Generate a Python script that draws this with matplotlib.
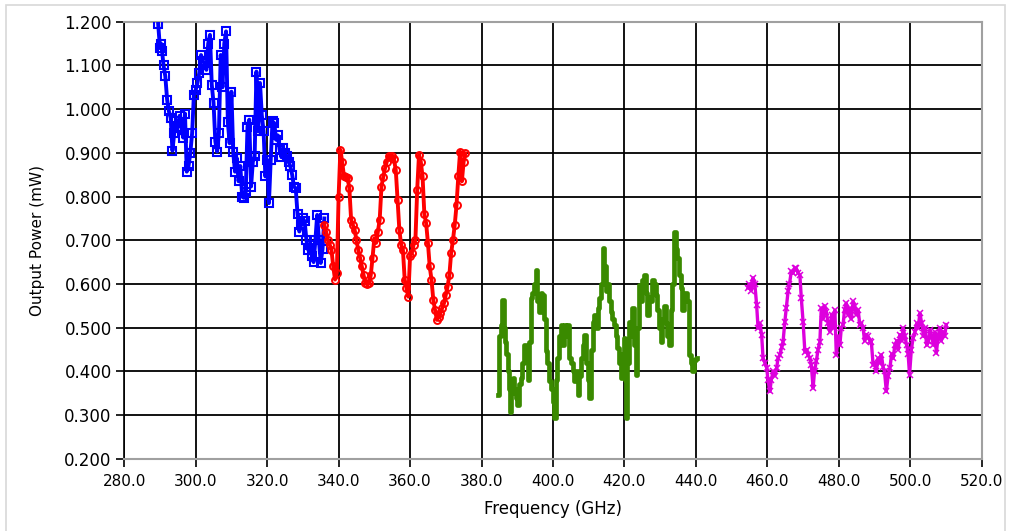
import matplotlib
matplotlib.use("Agg")
import matplotlib.pyplot as plt
from matplotlib.patches import Rectangle

# band 1 (blue, squares)
blue_f = [289.5, 290.0, 290.3, 290.6, 291.0, 291.5, 292.0, 292.5, 293.0, 293.5,
          294.0, 294.5, 295.0, 295.5, 296.0, 296.5, 297.0, 297.5, 298.0, 298.5,
          299.0, 299.5, 300.0, 300.5, 301.0, 301.5, 302.0, 302.5, 303.0, 303.5,
          304.0, 304.5, 305.0, 305.5, 306.0, 306.5, 307.0, 307.5, 308.0, 308.5,
          309.0, 309.5, 310.0, 310.5, 311.0, 311.5, 312.0, 312.5, 313.0, 313.5,
          314.0, 314.5, 315.0, 315.5, 316.0, 316.5, 317.0, 317.5, 318.0, 318.5,
          319.0, 319.5, 320.0, 320.5, 321.0, 321.5, 322.0, 322.5, 323.0, 323.5,
          324.0, 324.5, 325.0, 325.5, 326.0, 326.5, 327.0, 327.5, 328.0, 328.5,
          329.0, 329.5, 330.0, 330.5, 331.0, 331.5, 332.0, 332.5, 333.0, 333.5,
          334.0, 334.5, 335.0, 335.5, 336.0]
blue_p = [1.195, 1.140, 1.150, 1.132, 1.100, 1.075, 1.022, 0.995, 0.980, 0.905,
          0.946, 0.972, 0.960, 0.985, 0.957, 0.935, 0.990, 0.857, 0.870, 0.900,
          0.945, 1.033, 1.044, 1.060, 1.083, 1.124, 1.110, 1.105, 1.090, 1.150,
          1.170, 1.056, 1.014, 0.926, 0.903, 0.945, 1.124, 1.050, 1.150, 1.178,
          0.970, 0.922, 1.040, 0.903, 0.857, 0.888, 0.835, 0.870, 0.800, 0.797,
          0.810, 0.960, 0.976, 0.823, 0.880, 0.892, 1.086, 0.949, 1.060, 0.987,
          0.950, 0.846, 0.884, 0.785, 0.884, 0.972, 0.968, 0.930, 0.940, 0.907,
          0.890, 0.911, 0.900, 0.892, 0.880, 0.869, 0.850, 0.823, 0.819, 0.760,
          0.720, 0.735, 0.750, 0.743, 0.700, 0.678, 0.690, 0.663, 0.650, 0.700,
          0.758, 0.700, 0.648, 0.680, 0.750]

# band 2 (red, circles)
red_f = [336.0, 336.5, 337.0, 337.5, 338.0, 338.5, 339.0, 339.5, 340.0, 340.5,
         341.0, 341.5, 342.0, 342.5, 343.0, 343.5, 344.0, 344.5, 345.0, 345.5,
         346.0, 346.5, 347.0, 347.5, 348.0, 348.5, 349.0, 349.5, 350.0, 350.5,
         351.0, 351.5, 352.0, 352.5, 353.0, 353.5, 354.0, 354.5, 355.0, 355.5,
         356.0, 356.5, 357.0, 357.5, 358.0, 358.5, 359.0, 359.5, 360.0, 360.5,
         361.0, 361.5, 362.0, 362.5, 363.0, 363.5, 364.0, 364.5, 365.0, 365.5,
         366.0, 366.5, 367.0, 367.5, 368.0, 368.5, 369.0, 369.5, 370.0, 370.5,
         371.0, 371.5, 372.0, 372.5, 373.0, 373.5, 374.0, 374.5, 375.0, 375.5]
red_p = [0.735, 0.720, 0.700, 0.690, 0.678, 0.640, 0.610, 0.625, 0.800, 0.907,
         0.880, 0.846, 0.845, 0.842, 0.820, 0.747, 0.735, 0.724, 0.700, 0.678,
         0.660, 0.640, 0.620, 0.602, 0.600, 0.602, 0.620, 0.660, 0.705, 0.694,
         0.720, 0.747, 0.823, 0.845, 0.865, 0.880, 0.892, 0.890, 0.892, 0.885,
         0.861, 0.793, 0.724, 0.690, 0.678, 0.610, 0.590, 0.571, 0.663, 0.671,
         0.690, 0.701, 0.816, 0.896, 0.880, 0.846, 0.760, 0.739, 0.694, 0.640,
         0.610, 0.564, 0.540, 0.518, 0.525, 0.533, 0.545, 0.556, 0.575, 0.594,
         0.620, 0.671, 0.700, 0.735, 0.780, 0.846, 0.903, 0.835, 0.880, 0.899]

# band 3 (green, line only)
green_f = [384.7, 385.3, 385.6, 386.1, 386.4, 386.6, 387.1, 387.5, 387.8, 388.0,
           388.5, 388.9, 389.3, 389.8, 390.3, 390.7, 391.2, 391.7, 392.2, 392.7,
           393.2, 393.6, 394.0, 394.5, 394.9, 395.4, 395.9, 396.3, 396.8, 397.2,
           397.7, 398.2, 398.7, 399.2, 399.7, 400.1, 400.6, 401.0, 401.5, 402.0,
           402.4, 402.9, 403.4, 403.8, 404.3, 404.8, 405.3, 405.7, 406.2, 406.7,
           407.1, 407.6, 408.1, 408.6, 409.0, 409.5, 410.0, 410.4, 410.9, 411.3,
           411.8, 412.3, 412.8, 413.2, 413.7, 414.1, 414.6, 415.0, 415.5, 416.0,
           416.4, 416.9, 417.3, 417.8, 418.3, 418.7, 419.2, 419.7, 420.1, 420.4,
           420.6, 421.0, 421.5, 422.0, 422.4, 422.9, 423.4, 423.8, 424.3, 424.8,
           425.2, 425.7, 426.2, 426.6, 427.1, 427.6, 428.0, 428.5, 428.9, 429.4,
           429.9, 430.4, 430.8, 431.3, 431.8, 432.2, 432.7, 433.2, 433.6, 434.1,
           434.6, 435.0, 435.5, 436.0, 436.5, 437.0, 437.4, 437.9, 438.3, 438.8,
           439.2, 439.7, 440.2]
green_p = [0.346, 0.480, 0.507, 0.564, 0.500, 0.468, 0.440, 0.400, 0.360, 0.308,
           0.350, 0.385, 0.360, 0.340, 0.324, 0.370, 0.385, 0.420, 0.461, 0.450,
           0.380, 0.468, 0.568, 0.580, 0.600, 0.633, 0.560, 0.537, 0.580, 0.575,
           0.520, 0.446, 0.420, 0.377, 0.360, 0.330, 0.293, 0.380, 0.431, 0.480,
           0.507, 0.460, 0.507, 0.480, 0.507, 0.431, 0.420, 0.400, 0.377, 0.400,
           0.346, 0.390, 0.431, 0.460, 0.484, 0.420, 0.380, 0.339, 0.450, 0.514,
           0.530, 0.500, 0.545, 0.568, 0.600, 0.682, 0.640, 0.583, 0.600, 0.560,
           0.537, 0.520, 0.507, 0.480, 0.453, 0.420, 0.385, 0.440, 0.476, 0.380,
           0.293, 0.420, 0.514, 0.480, 0.545, 0.460, 0.392, 0.500, 0.598, 0.560,
           0.610, 0.621, 0.580, 0.530, 0.570, 0.560, 0.610, 0.600, 0.575, 0.540,
           0.500, 0.468, 0.520, 0.550, 0.510, 0.480, 0.461, 0.540, 0.600, 0.720,
           0.680, 0.659, 0.620, 0.591, 0.540, 0.580, 0.580, 0.560, 0.438, 0.420,
           0.400, 0.425, 0.431]

# band 4 (magenta, crosses)
mag_f = [454.6, 455.0, 455.5, 456.0, 456.5, 457.0, 457.4, 457.9, 458.4, 458.8,
         459.3, 459.8, 460.2, 460.7, 461.1, 461.6, 462.1, 462.6, 463.0, 463.5,
         464.0, 464.4, 464.9, 465.3, 465.8, 466.2, 466.7, 467.2, 467.6, 468.1,
         468.6, 469.1, 469.5, 470.0, 470.5, 471.0, 471.4, 471.9, 472.3, 472.8,
         473.2, 473.7, 474.2, 474.7, 475.1, 475.6, 476.0, 476.5, 477.0, 477.5,
         478.0, 478.4, 478.9, 479.3, 479.8, 480.3, 480.7, 481.2, 481.6, 482.1,
         482.6, 483.0, 483.5, 484.0, 484.4, 484.9, 485.4, 485.9, 486.3, 486.8,
         487.2, 487.7, 488.2, 488.7, 489.1, 489.6, 490.0, 490.5, 491.0, 491.4,
         491.9, 492.4, 492.8, 493.3, 493.8, 494.3, 494.8, 495.2, 495.7, 496.2,
         496.6, 497.1, 497.6, 498.0, 498.5, 499.0, 499.4, 499.8, 500.3, 500.8,
         501.3, 501.8, 502.2, 502.7, 503.2, 503.7, 504.1, 504.6, 505.1, 505.5,
         506.0, 506.5, 506.9, 507.3, 507.8, 508.3, 508.7, 509.2, 509.6, 510.1]
mag_p = [0.591, 0.600, 0.585, 0.614, 0.600, 0.552, 0.499, 0.510, 0.484, 0.430,
         0.420, 0.408, 0.380, 0.354, 0.380, 0.400, 0.390, 0.408, 0.430, 0.438,
         0.455, 0.468, 0.514, 0.545, 0.583, 0.600, 0.629, 0.625, 0.636, 0.636,
         0.625, 0.621, 0.568, 0.514, 0.445, 0.450, 0.438, 0.430, 0.415, 0.362,
         0.400, 0.423, 0.450, 0.468, 0.545, 0.520, 0.550, 0.537, 0.510, 0.491,
         0.530, 0.500, 0.540, 0.438, 0.480, 0.460, 0.500, 0.507, 0.540, 0.556,
         0.530, 0.545, 0.520, 0.560, 0.550, 0.530, 0.540, 0.507, 0.510, 0.499,
         0.470, 0.484, 0.480, 0.470, 0.468, 0.415, 0.420, 0.400, 0.430, 0.420,
         0.438, 0.410, 0.400, 0.354, 0.390, 0.408, 0.440, 0.430, 0.460, 0.470,
         0.450, 0.484, 0.470, 0.499, 0.480, 0.460, 0.440, 0.392, 0.450, 0.476,
         0.490, 0.510, 0.500, 0.533, 0.510, 0.480, 0.500, 0.460, 0.470, 0.495,
         0.480, 0.460, 0.490, 0.442, 0.480, 0.500, 0.470, 0.490, 0.480, 0.507]

x_ticks = [280, 300, 320, 340, 360, 380, 400, 420, 440, 460, 480, 500, 520]
y_ticks = [0.2, 0.3, 0.4, 0.5, 0.6, 0.7, 0.8, 0.9, 1.0, 1.1, 1.2]

fig = plt.figure(figsize=(10.1, 5.31), dpi=100)
fig.patch.set_facecolor("white")
fig.patches.append(Rectangle((0.006, -0.01), 0.989, 1.0, transform=fig.transFigure,
                             fill=False, edgecolor="#d8d8d8", lw=1.2))
ax = fig.add_axes([0.123, 0.136, 0.849, 0.823])

ax.plot(blue_f, blue_p, color="#0000ff", lw=2.8, marker="s", ms=5.5,
        mfc="none", mec="#0000ff", mew=1.5, zorder=3)
ax.plot(red_f, red_p, color="#ff0000", lw=2.8, marker="o", ms=5.0,
        mfc="none", mec="#ff0000", mew=1.4, zorder=3)
ax.plot(green_f, green_p, color="#3a8a00", lw=3.4, drawstyle="steps-mid", zorder=3)
ax.plot(mag_f, mag_p, color="#dd00dd", lw=2.4, marker="x", ms=5,
        mec="#dd00dd", mew=1.1, zorder=3)

ax.set_xlim(280, 520)
ax.set_ylim(0.2, 1.2)
ax.set_xticks(x_ticks)
ax.set_yticks(y_ticks)
ax.set_xticklabels(["%.1f" % v for v in x_ticks], fontsize=11)
ax.set_yticklabels(["%.3f" % v for v in y_ticks], fontsize=12)
ax.grid(True, color="black", lw=1.3)
ax.set_axisbelow(True)
ax.tick_params(axis="both", direction="out", length=6, width=1.2, color="black")
ax.tick_params(axis="x", pad=5)
ax.tick_params(axis="y", pad=3)

for s in ["top", "right", "bottom"]:
    ax.spines[s].set_color("#a0a0a0")
    ax.spines[s].set_linewidth(1.5)
ax.spines["left"].set_color("black")
ax.spines["left"].set_linewidth(1.2)

ax.set_xlabel("Frequency (GHz)", fontsize=12, labelpad=8)
ax.set_ylabel("Output Power (mW)", fontsize=11, labelpad=14)

fig.savefig("out.png", dpi=100)
